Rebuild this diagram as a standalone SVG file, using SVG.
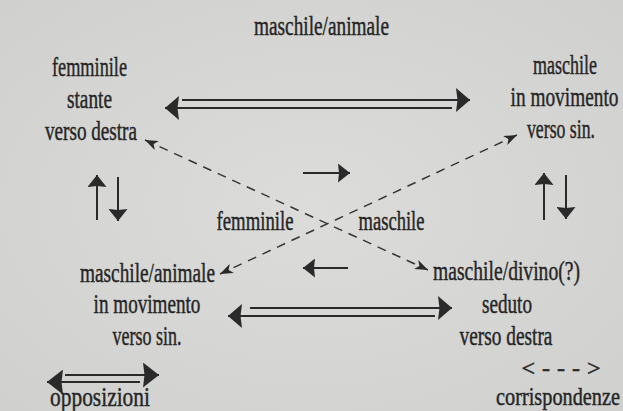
<svg xmlns="http://www.w3.org/2000/svg" width="623" height="411" viewBox="0 0 623 411">
<style>
text{font-family:"Liberation Serif","Times New Roman",serif;font-size:28px;fill:#262626;stroke:#262626;stroke-width:0.45;text-anchor:middle}
.solid{stroke:#2a2a2a;stroke-width:2;fill:none}
.dash{stroke:#363636;stroke-width:1.5;fill:none;stroke-dasharray:9 7}
</style>
<defs>
<radialGradient id="bg" cx="50%" cy="50%" r="70%">
<stop offset="0" stop-color="#dcdcda"/>
<stop offset="1" stop-color="#d0d0ce"/>
</radialGradient>
<marker id="hBig" markerUnits="userSpaceOnUse" viewBox="0 0 14 24" refX="14" refY="12" markerWidth="14" markerHeight="24" orient="auto-start-reverse"><path d="M0,0 L14,12 L0,24 L1.5,12 z" fill="#2a2a2a"/></marker>
<marker id="hLeg" markerUnits="userSpaceOnUse" viewBox="0 0 16 25" refX="16" refY="12.5" markerWidth="16" markerHeight="25" orient="auto-start-reverse"><path d="M0,0 L16,12.5 L0,25 L1.5,12.5 z" fill="#2a2a2a"/></marker>
<marker id="hSm" markerUnits="userSpaceOnUse" viewBox="0 0 12 19" refX="12" refY="9.5" markerWidth="12" markerHeight="19" orient="auto-start-reverse"><path d="M0,0 L12,9.5 L0,19 L1,9.5 z" fill="#2a2a2a"/></marker>
<marker id="hDash" markerUnits="userSpaceOnUse" viewBox="0 0 13 10" refX="13" refY="5" markerWidth="13" markerHeight="10" orient="auto-start-reverse"><path d="M0,0 L13,5 L0,10 L3.5,5 z" fill="#2a2a2a"/></marker>
</defs>
<rect width="623" height="411" fill="url(#bg)"/>
<g id="title"><text transform="translate(321.5,35) scale(0.689,1)">maschile/animale</text></g>
<g id="node-tl">
<text transform="translate(89.5,76) scale(0.652,1)">femminile</text>
<text transform="translate(89.5,108) scale(0.689,1)">stante</text>
<text transform="translate(91,140) scale(0.684,1)">verso destra</text>
</g>
<g id="node-tr">
<text transform="translate(565,74) scale(0.643,1)">maschile</text>
<text transform="translate(564.5,106) scale(0.69,1)">in movimento</text>
<text transform="translate(561,138) scale(0.634,1)">verso sin.</text>
</g>
<g id="node-center">
<text transform="translate(255,230) scale(0.669,1)">femminile</text>
<text transform="translate(391.5,230) scale(0.663,1)">maschile</text>
</g>
<g id="node-bl">
<text transform="translate(147.5,282) scale(0.689,1)">maschile/animale</text>
<text transform="translate(147,313) scale(0.684,1)">in movimento</text>
<text transform="translate(147,345) scale(0.643,1)">verso sin.</text>
</g>
<g id="node-br">
<text transform="translate(506.5,280) scale(0.70,1)">maschile/divino(?)</text>
<text transform="translate(507,313) scale(0.684,1)">seduto</text>
<text transform="translate(506,345) scale(0.691,1)">verso destra</text>
</g>
<g id="connectors">
<path class="solid" d="M182,100 H470" marker-end="url(#hBig)"/>
<path class="solid" d="M452,108 H165" marker-end="url(#hBig)"/>
<path class="solid" d="M250,308 H452" marker-end="url(#hBig)"/>
<path class="solid" d="M435,316 H228" marker-end="url(#hBig)"/>
<path class="solid" d="M303,173 H350" marker-end="url(#hSm)"/>
<path class="solid" d="M348,268 H303" marker-end="url(#hSm)"/>
<path class="solid" d="M97,220 V175" marker-end="url(#hSm)"/>
<path class="solid" d="M118,177 V221" marker-end="url(#hSm)"/>
<path class="solid" d="M544,220 V173" marker-end="url(#hSm)"/>
<path class="solid" d="M566,175 V219" marker-end="url(#hSm)"/>
<path class="dash" d="M145,140 L428,270" marker-start="url(#hDash)" marker-end="url(#hDash)"/>
<path class="dash" d="M517,135 L220,274" marker-start="url(#hDash)" marker-end="url(#hDash)"/>
</g>
<g id="legend">
<path class="solid" d="M65,375 H159" marker-end="url(#hLeg)"/>
<path class="solid" d="M140,382 H47" marker-end="url(#hLeg)"/>
<text transform="translate(100,406) scale(0.765,1)">opposizioni</text>
<text x="564.5" y="376" style="font-size:24px;letter-spacing:7px;stroke-width:0.5">&lt;---&gt;</text>
<text transform="translate(558,405) scale(0.78,1)" style="font-size:26px">corrispondenze</text>
</g>
</svg>
